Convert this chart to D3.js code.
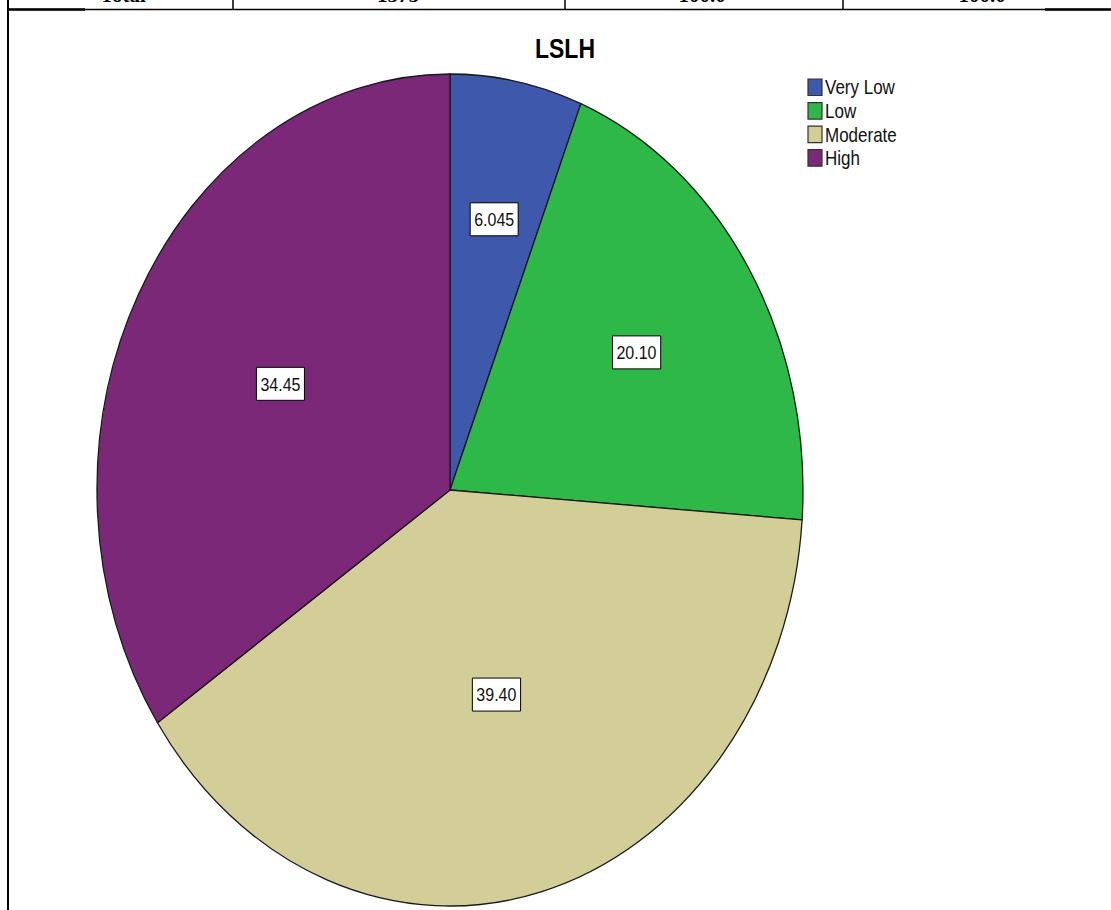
<!DOCTYPE html>
<html>
<head>
<meta charset="utf-8">
<script src="https://cdn.jsdelivr.net/npm/d3@7"></script>
<style>
    body { margin: 0; background: #fff; }
    svg { display: block; }
    .slice { stroke: #1a1a1a; stroke-width: 1.3px; vector-effect: non-scaling-stroke; }
    .lbl-box { fill: #fff; stroke: #000; stroke-width: 1px; vector-effect: non-scaling-stroke; }
    .lbl, .legend-text { font-family: "Liberation Sans", Arial, sans-serif; fill: #111; }
    .tbl { stroke: #000; }
    .tbl-text { font-family: "Liberation Serif", "Times New Roman", serif; font-size: 21px; font-weight: bold; }
</style>
</head>
<body>
<div id="chart"></div>
<script>
// data
var categories = ["Very Low", "Low", "Moderate", "High"];
var values = [6.045, 20.10, 39.40, 34.45];
var valueLabels = ["6.045", "20.10", "39.40", "34.45"];
var colors = ["#3e58ac", "#2eb848", "#d3ce97", "#7b2879"];
var tableRow = ["Total", "1375", "100.0", "100.0"];
var title = "LSLH";

var w = 1111, h = 910;
var svg = d3.select("#chart").append("svg")
    .attr("width", w)
    .attr("height", h);

// the picture is stretched vertically, so everything in the chart is too
var ky = 416 / 353;

// bit of the table above the chart (only the bottom of the last row shows)
var colCenters = [123, 398, 702, 982];
svg.selectAll(".tbl-text")
    .data(tableRow)
    .enter().append("text")
    .attr("class", "tbl-text")
    .attr("x", function (d, i) { return colCenters[i]; })
    .attr("y", 1.5)
    .attr("text-anchor", "middle")
    .text(function (d) { return d; });

[233, 565, 843].forEach(function (x) {
    svg.append("line").attr("class", "tbl")
        .attr("x1", x).attr("x2", x).attr("y1", 0).attr("y2", 10)
        .style("stroke-width", 1.5);
});
svg.append("line").attr("class", "tbl")
    .attr("x1", 8).attr("x2", 1110).attr("y1", 9.5).attr("y2", 9.5)
    .style("stroke-width", 1.5);
svg.append("line").attr("class", "tbl")
    .attr("x1", 8).attr("x2", 85).attr("y1", 9.5).attr("y2", 9.5)
    .style("stroke-width", 2.5);
svg.append("line").attr("class", "tbl")
    .attr("x1", 1045).attr("x2", 1111).attr("y1", 9.5).attr("y2", 9.5)
    .style("stroke-width", 2.5);
svg.append("line").attr("class", "tbl")
    .attr("x1", 8).attr("x2", 8).attr("y1", 0).attr("y2", h)
    .style("stroke-width", 2);

// title
svg.append("text")
    .attr("transform", "translate(565,58) scale(1," + ky + ")")
    .attr("text-anchor", "middle")
    .style("font-family", "'Liberation Sans', Arial, sans-serif")
    .style("font-weight", "bold")
    .style("font-size", "23px")
    .text(title);

// pie
var r = 353;
var pie = d3.pie().sort(null).value(function (d) { return d; });
var arcs = pie(values);
var arc = d3.arc().innerRadius(0).outerRadius(r);

var g = svg.append("g")
    .attr("transform", "translate(450,490) scale(1," + ky + ")");

g.selectAll(".slice")
    .data(arcs)
    .enter().append("path")
    .attr("class", "slice")
    .attr("d", arc)
    .style("fill", function (d, i) { return colors[i]; });

// labels sit near the centroid of each sector
function centroid(d) {
    var t = d.endAngle - d.startAngle;
    var dist = r * 4 * Math.sin(t / 2) / (3 * t);
    var a = (d.startAngle + d.endAngle) / 2;
    return [dist * Math.sin(a), -dist * Math.cos(a)];
}

var lbl = g.selectAll(".lbl-g")
    .data(arcs)
    .enter().append("g")
    .attr("class", "lbl-g")
    .attr("transform", function (d) { return "translate(" + centroid(d) + ")"; });

lbl.append("text")
    .attr("class", "lbl")
    .attr("text-anchor", "middle")
    .attr("dy", "0.36em")
    .style("font-size", "16px")
    .text(function (d, i) { return valueLabels[i]; });

lbl.each(function () {
    var sel = d3.select(this);
    var bb = sel.select("text").node().getBBox();
    sel.insert("rect", "text")
        .attr("class", "lbl-box")
        .attr("x", bb.x - 4)
        .attr("y", -14)
        .attr("width", bb.width + 8)
        .attr("height", 28);
});

// legend
var legend = svg.append("g")
    .attr("transform", "translate(808,79) scale(1," + ky + ")");

var item = legend.selectAll(".legend-item")
    .data(categories)
    .enter().append("g")
    .attr("class", "legend-item")
    .attr("transform", function (d, i) { return "translate(0," + i * 20 + ")"; });

item.append("rect")
    .attr("width", 14)
    .attr("height", 14)
    .style("fill", function (d, i) { return colors[i]; })
    .style("stroke", "#333")
    .style("stroke-width", 1.2)
    .style("vector-effect", "non-scaling-stroke");

item.append("text")
    .attr("class", "legend-text")
    .attr("x", 17)
    .attr("y", 7)
    .attr("dy", "0.36em")
    .style("font-size", "17px")
    .text(function (d) { return d; });
</script>
</body>
</html>
